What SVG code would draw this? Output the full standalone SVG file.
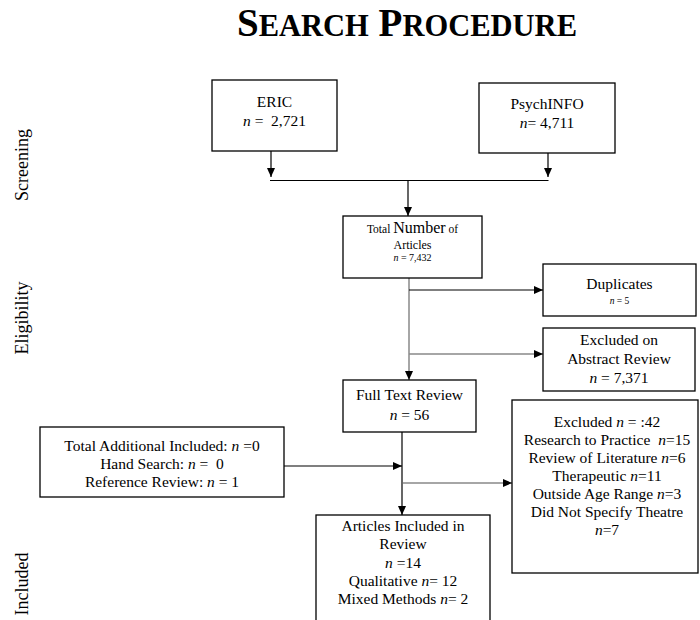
<svg xmlns="http://www.w3.org/2000/svg" width="700" height="620" viewBox="0 0 700 620">
<defs>
<marker id="ah" markerWidth="10" markerHeight="10" refX="9" refY="5" orient="auto" markerUnits="userSpaceOnUse">
<path d="M0,1 L9,5 L0,9 Z" fill="#000"/>
</marker>
<style>
text{font-family:"Liberation Serif","Times New Roman",serif;fill:#000;white-space:pre}
.box{fill:#fff;stroke:#000;stroke-width:1.3}
.t{font-size:15.5px;text-anchor:middle}
.s{font-size:9.5px;text-anchor:middle}
.lab{font-size:18px;text-anchor:middle}
.c{fill:none;stroke:#000;stroke-width:1.2}
.g{fill:none;stroke:#888;stroke-width:1.5}
</style>
</defs>
<rect width="700" height="620" fill="#fff"/>
<text x="407" y="36" text-anchor="middle" font-weight="bold" font-size="39">S<tspan font-size="30.5">EARCH</tspan> P<tspan font-size="30.5">ROCEDURE</tspan></text>

<text class="lab" transform="translate(28,165) rotate(-90)">Screening</text>
<text class="lab" transform="translate(28,318) rotate(-90)">Eligibility</text>
<text class="lab" transform="translate(28,584) rotate(-90)">Included</text>

<g id="connectors">
<line class="c" x1="271" y1="151" x2="271" y2="177" marker-end="url(#ah)"/>
<line class="c" x1="548" y1="153" x2="548" y2="177" marker-end="url(#ah)"/>
<line class="c" x1="270" y1="180.5" x2="548.5" y2="180.5"/>
<line class="c" x1="408" y1="180" x2="408" y2="216" marker-end="url(#ah)"/>
<line class="g" x1="409" y1="278" x2="409" y2="380" marker-end="url(#ah)"/>
<line class="c" x1="409" y1="290" x2="543" y2="290" marker-end="url(#ah)" stroke="#444"/>
<line class="g" x1="409" y1="354" x2="543" y2="354" marker-end="url(#ah)"/>
<line class="c" x1="402" y1="432" x2="402" y2="515" marker-end="url(#ah)"/>
<line class="c" x1="284" y1="466" x2="402" y2="466" marker-end="url(#ah)"/>
<line class="g" x1="403" y1="483" x2="512" y2="483" marker-end="url(#ah)"/>
</g>

<g id="eric">
<rect class="box" x="212" y="80" width="125" height="71"/>
<text class="t" x="274.5" y="107">ERIC</text>
<text class="t" x="274.5" y="126"><tspan font-style="italic">n</tspan> =  2,721</text>
</g>
<g id="psychinfo">
<rect class="box" x="479" y="83" width="136" height="70"/>
<text class="t" x="547" y="109">PsychINFO</text>
<text class="t" x="547" y="128"><tspan font-style="italic">n</tspan>= 4,711</text>
</g>
<g id="total">
<rect class="box" x="343" y="216" width="139" height="62"/>
<text x="412.5" y="233" text-anchor="middle" font-size="11.5">Total <tspan font-size="16">Number</tspan> of</text>
<text x="412.5" y="249" text-anchor="middle" font-size="12">Articles</text>
<text x="412.5" y="261" text-anchor="middle" font-size="10"><tspan font-style="italic">n</tspan> = 7,432</text>
</g>
<g id="duplicates">
<rect class="box" x="543" y="264" width="153" height="52"/>
<text class="t" x="619.5" y="289">Duplicates</text>
<text class="s" x="619.5" y="304"><tspan font-style="italic">n</tspan> = 5</text>
</g>
<g id="abstract">
<rect class="box" x="543" y="328" width="152" height="63"/>
<text class="t" x="619" y="345">Excluded on</text>
<text class="t" x="619" y="364">Abstract Review</text>
<text class="t" x="619" y="383"><tspan font-style="italic">n</tspan> = 7,371</text>
</g>
<g id="fulltext">
<rect class="box" x="343" y="380" width="133" height="52"/>
<text class="t" x="409.5" y="400">Full Text Review</text>
<text class="t" x="409.5" y="420"><tspan font-style="italic">n</tspan> = 56</text>
</g>
<g id="additional">
<rect class="box" x="40" y="427" width="244" height="70"/>
<text class="t" x="162" y="451">Total Additional Included: <tspan font-style="italic">n</tspan> =0</text>
<text class="t" x="162" y="469">Hand Search: <tspan font-style="italic">n</tspan> =  0</text>
<text class="t" x="162" y="487">Reference Review: <tspan font-style="italic">n</tspan> = 1</text>
</g>
<g id="excluded">
<rect class="box" x="512" y="400" width="186" height="173"/>
<text class="t" x="607" y="427">Excluded <tspan font-style="italic">n</tspan> = :42</text>
<text class="t" x="607" y="445">Research to Practice  <tspan font-style="italic">n</tspan>=15</text>
<text class="t" x="607" y="463">Review of Literature <tspan font-style="italic">n</tspan>=6</text>
<text class="t" x="607" y="481">Therapeutic <tspan font-style="italic">n</tspan>=11</text>
<text class="t" x="607" y="499">Outside Age Range <tspan font-style="italic">n</tspan>=3</text>
<text class="t" x="607" y="517">Did Not Specify Theatre</text>
<text class="t" x="607" y="535"><tspan font-style="italic">n</tspan>=7</text>
</g>
<g id="articles">
<rect class="box" x="316" y="515" width="174" height="120"/>
<text class="t" x="403" y="531">Articles Included in</text>
<text class="t" x="403" y="549">Review</text>
<text class="t" x="403" y="568"><tspan font-style="italic">n</tspan> =14</text>
<text class="t" x="403" y="586">Qualitative <tspan font-style="italic">n</tspan>= 12</text>
<text class="t" x="403" y="604">Mixed Methods <tspan font-style="italic">n</tspan>= 2</text>
</g>
</svg>
